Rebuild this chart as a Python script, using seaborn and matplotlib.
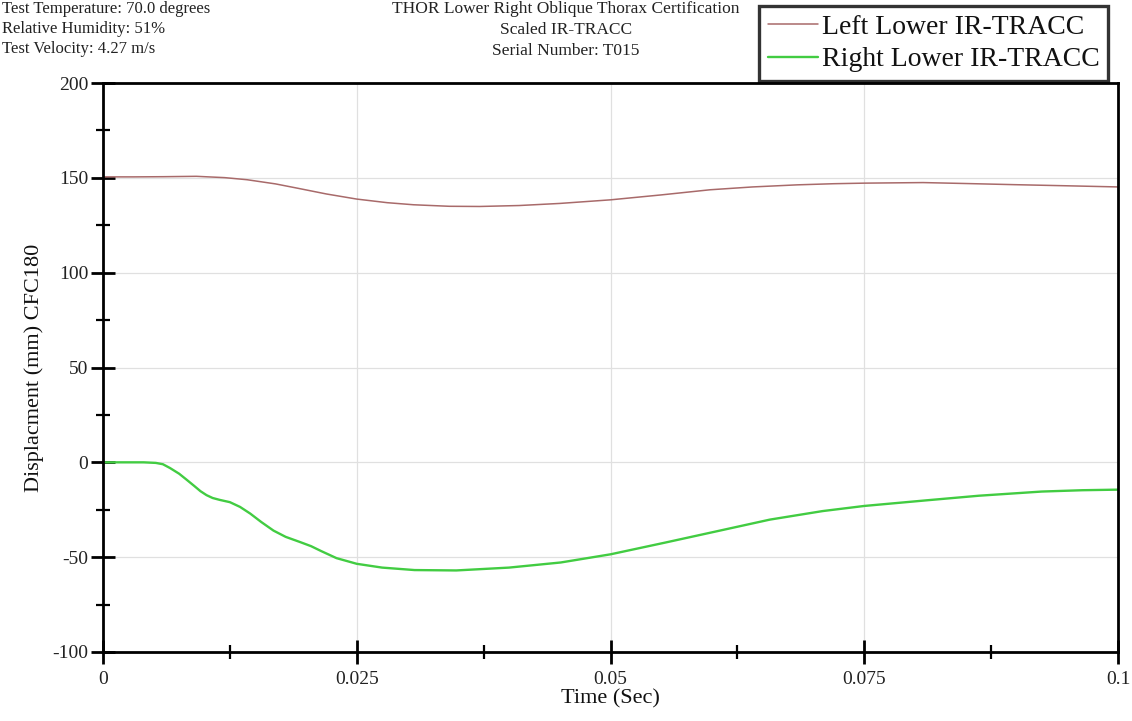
import pandas as pd
import seaborn as sns
import matplotlib.pyplot as plt
from matplotlib.ticker import MultipleLocator, FixedLocator

# Data
time_left = [0.0, 0.003, 0.006, 0.0092, 0.012, 0.0142, 0.017, 0.0191, 0.022,
             0.025, 0.028, 0.0306, 0.0341, 0.0371, 0.041, 0.045, 0.05, 0.055,
             0.0598, 0.064, 0.0684, 0.072, 0.075, 0.0808, 0.085, 0.0898, 0.095, 0.1]
left_lower = [150.5, 150.5, 150.6, 150.8, 150.1, 149.0, 146.8, 144.6, 141.5,
              138.8, 136.9, 135.8, 135.0, 134.9, 135.4, 136.5, 138.4, 141.0,
              143.7, 145.2, 146.3, 146.9, 147.2, 147.5, 147.0, 146.4, 145.8, 145.2]

time_right = [0.0, 0.004, 0.0052, 0.0059, 0.0066, 0.0075, 0.0082, 0.009, 0.0096,
              0.0102, 0.0108, 0.0115, 0.0125, 0.0135, 0.0145, 0.0156, 0.0168,
              0.018, 0.0194, 0.0205, 0.0215, 0.023, 0.025, 0.0275, 0.0307,
              0.0348, 0.040, 0.0451, 0.05, 0.0554, 0.0606, 0.0657, 0.0709,
              0.075, 0.0812, 0.0863, 0.0925, 0.0965, 0.1]
right_lower = [0.0, 0.0, -0.3, -1.0, -3.0, -6.0, -9.0, -12.5, -15.2,
               -17.3, -18.8, -19.8, -21.0, -23.5, -27.0, -31.5, -36.0,
               -39.3, -42.0, -44.2, -46.8, -50.5, -53.5, -55.5, -56.8,
               -57.0, -55.5, -52.8, -48.5, -42.3, -36.2, -30.2, -25.7,
               -23.0, -20.0, -17.6, -15.4, -14.7, -14.4]

series_names = ['Left Lower IR-TRACC', 'Right Lower IR-TRACC']
series_colors = ['#a86a6a', '#42cc42']

title_lines = ['THOR Lower Right Oblique Thorax Certification',
               'Scaled IR-TRACC',
               'Serial Number: T015']
info_lines = ['Test Temperature: 70.0 degrees',
              'Relative Humidity: 51%',
              'Test Velocity: 4.27 m/s']

df = pd.concat([
    pd.DataFrame({'t': time_left, 'v': left_lower, 'series': series_names[0]}),
    pd.DataFrame({'t': time_right, 'v': right_lower, 'series': series_names[1]}),
])

sns.set_style('white')
plt.rcParams['font.family'] = ['Liberation Serif', 'DejaVu Serif']
plt.rcParams['axes.unicode_minus'] = False

fig = plt.figure(figsize=(11.32, 7.21), dpi=100)
ax = fig.add_axes([103 / 1132, 1 - 652 / 721, (1118 - 103) / 1132, (652 - 83) / 721])

sns.lineplot(data=df, x='t', y='v', hue='series', palette=series_colors,
             hue_order=series_names, ax=ax, estimator=None, sort=True)
for line, lw in zip(ax.get_lines(), [1.1, 1.7]):
    line.set_linewidth(lw)

ax.set_xlim(0, 0.1)
ax.set_ylim(-100, 200)
ax.xaxis.set_major_locator(FixedLocator([0, 0.025, 0.05, 0.075, 0.1]))
ax.set_xticklabels(['0', '0.025', '0.05', '0.075', '0.1'])
ax.xaxis.set_minor_locator(FixedLocator([0.0125, 0.0375, 0.0625, 0.0875]))
ax.yaxis.set_major_locator(MultipleLocator(50))
ax.yaxis.set_minor_locator(MultipleLocator(25))

ax.grid(True, which='major', color='#e0e0e0', linewidth=0.9)
for s in ax.spines.values():
    s.set_color('black')
    s.set_linewidth(2)
ax.tick_params(which='major', direction='inout', length=17, width=2,
               labelsize=14, pad=2, bottom=True, left=True, colors='black',
               labelcolor='#222222')
ax.tick_params(axis='x', which='major', pad=5)
ax.tick_params(which='minor', direction='inout', length=10, width=1.6,
               bottom=True, left=True, colors='black')

ax.set_xlabel('Time (Sec)', fontsize=16, labelpad=1, color='#111111')
ax.set_ylabel('Displacment (mm) CFC180', fontsize=16, labelpad=6, color='#111111')

leg = ax.legend(handles=ax.get_lines()[:2], labels=series_names,
                loc='lower right', bbox_to_anchor=(0.99, 1.004),
                fontsize=20, frameon=True, fancybox=False, handlelength=1.8,
                handletextpad=0.15, borderpad=0.3, labelspacing=0.25,
                borderaxespad=0)
leg.get_frame().set_edgecolor('black')
leg.get_frame().set_linewidth(2.4)
for t in leg.get_texts():
    t.set_color('#111111')

for i, txt in enumerate(title_lines):
    fig.text(566 / 1132, 1 - (9 + 21 * i) / 721, txt, ha='center', va='center',
             fontsize=12.5, color='#222222')
for i, txt in enumerate(info_lines):
    fig.text(2 / 1132, 1 - (9 + 20 * i) / 721, txt, ha='left', va='center',
             fontsize=12, color='#222222')

fig.savefig('out.png', dpi=100)
